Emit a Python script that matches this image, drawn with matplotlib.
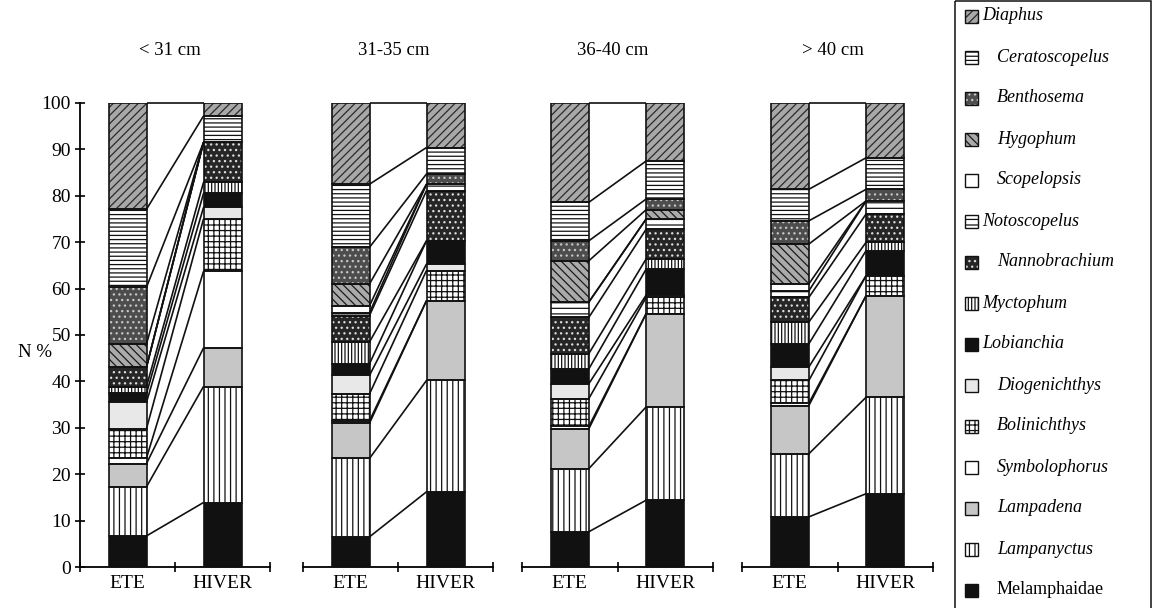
"""
Myctophid composition (N %) by size class, summer (ETE) vs winter (HIVER).
Stacked bars per season with lines joining the cumulative boundaries.
"""

import matplotlib

matplotlib.use("Agg")

import matplotlib.pyplot as plt
import numpy as np
from matplotlib.patches import Rectangle

# ---------------------------------------------------------------------------
# Data (N %, stacked bottom -> top in this order)
# ---------------------------------------------------------------------------

taxa = [
    "Melamphaidae", "Lampanyctus", "Lampadena", "Symbolophorus",
    "Bolinichthys", "Diogenichthys", "Lobianchia", "Myctophum",
    "Nannobrachium", "Notoscopelus", "Scopelopsis", "Hygophum",
    "Benthosema", "Ceratoscopelus", "Diaphus",
]

size_classes = ["< 31 cm", "31-35 cm", "36-40 cm", "> 40 cm"]
seasons = ["ETE", "HIVER"]

lt31_ete = [6.7, 10.6, 5.0, 1.2, 6.3, 5.7, 1.9, 1.5, 4.2, 0.0, 0.0, 5.0, 12.2, 16.8, 22.9]
lt31_hiver = [13.9, 25.0, 8.3, 16.5, 11.3, 2.5, 3.0, 2.4, 8.6, 0.0, 0.0, 0.0, 0.0, 5.7, 2.8]

s31_35_ete = [6.5, 16.9, 7.6, 0.5, 5.8, 4.0, 2.5, 4.7, 5.7, 0.6, 1.5, 4.7, 7.9, 13.6, 17.5]
s31_35_hiver = [16.2, 24.0, 17.2, 0.0, 6.5, 1.4, 5.0, 0.0, 10.8, 1.4, 0.0, 0.0, 2.2, 5.7, 9.6]

s36_40_ete = [7.6, 13.6, 8.6, 0.5, 6.0, 3.2, 3.2, 3.3, 7.8, 3.3, 0.0, 8.9, 4.3, 8.3, 21.4]
s36_40_hiver = [14.4, 20.1, 20.1, 0.0, 3.5, 0.5, 5.6, 2.2, 6.4, 2.2, 0.0, 2.0, 2.3, 8.2, 12.5]

gt40_ete = [10.8, 13.6, 10.4, 0.5, 4.9, 2.9, 5.0, 4.7, 5.3, 1.4, 1.5, 8.6, 5.0, 6.8, 18.6]
gt40_hiver = [15.8, 20.8, 21.9, 0.0, 4.3, 0.0, 5.4, 1.8, 6.1, 2.8, 0.0, 0.0, 2.5, 6.8, 11.8]

panels = [
    (lt31_ete, lt31_hiver),
    (s31_35_ete, s31_35_hiver),
    (s36_40_ete, s36_40_hiver),
    (gt40_ete, gt40_hiver),
]

# ---------------------------------------------------------------------------
# Fill styles: (face colour, hatch, hatch colour)
# ---------------------------------------------------------------------------

STYLES = {
    "Melamphaidae": ("#111111", None, "#111111"),
    "Lampanyctus": ("white", "|||", "#111111"),
    "Lampadena": ("#c6c6c6", None, "#c6c6c6"),
    "Symbolophorus": ("white", None, "white"),
    "Bolinichthys": ("white", "+++", "#111111"),
    "Diogenichthys": ("#e8e8e8", None, "#e8e8e8"),
    "Lobianchia": ("#111111", None, "#111111"),
    "Myctophum": ("white", "|||||", "#111111"),
    "Nannobrachium": ("#262626", "...", "#dddddd"),
    "Notoscopelus": ("white", "---", "#111111"),
    "Scopelopsis": ("white", None, "white"),
    "Hygophum": ("#aaaaaa", "\\\\\\\\", "#1a1a1a"),
    "Benthosema": ("#4d4d4d", "...", "#c8c8c8"),
    "Ceratoscopelus": ("white", "----", "#111111"),
    "Diaphus": ("#a8a8a8", "////", "#2a2a2a"),
}

SERIF = "Liberation Serif"
plt.rcParams["font.family"] = SERIF
plt.rcParams["hatch.linewidth"] = 0.9

W, H = 1154, 608
BAR_W = 0.4
X_ETE, X_HIVER = 0.5, 1.5

# pixel extents of the four panels (left, right); shared vertical extent
PANEL_X = [(80, 270), (303, 493), (522, 713), (742, 933)]
Y_TOP, Y_BOT = 103, 567


def fig_rect(x0, x1, y_top, y_bot):
    return [x0 / W, 1 - y_bot / H, (x1 - x0) / W, (y_bot - y_top) / H]


def draw_stack(ax, x, values):
    bottom = 0.0
    for name, v in zip(taxa, values):
        if v <= 0:
            continue
        face, hatch, hcol = STYLES[name]
        ax.bar(x, v, bottom=bottom, width=BAR_W, color=face, edgecolor=hcol,
               hatch=hatch, linewidth=0, zorder=2)
        ax.bar(x, v, bottom=bottom, width=BAR_W, fill=False,
               edgecolor="#111111", linewidth=1.2, zorder=3)
        bottom += v


fig = plt.figure(figsize=(W / 100, H / 100), dpi=100)

for k, ((ete, hiver), label) in enumerate(zip(panels, size_classes)):
    x0, x1 = PANEL_X[k]
    ax = fig.add_axes(fig_rect(x0, x1, Y_TOP, Y_BOT))
    ax.set_xlim(0, 2)
    ax.set_ylim(0, 100)

    draw_stack(ax, X_ETE, ete)
    draw_stack(ax, X_HIVER, hiver)

    # join matching cumulative boundaries between the two seasons
    cum_e = np.cumsum(ete)
    cum_h = np.cumsum(hiver)
    for ye, yh in zip(cum_e, cum_h):
        ax.plot([X_ETE + BAR_W / 2, X_HIVER - BAR_W / 2], [ye, yh],
                color="#111111", linewidth=1.2, zorder=4, clip_on=False,
                solid_capstyle="butt")

    for side in ("top", "right"):
        ax.spines[side].set_visible(False)
    ax.spines["bottom"].set_linewidth(1.3)

    ax.set_xticks([0, 1, 2])
    ax.set_xticklabels([])
    ax.tick_params(axis="x", which="major", direction="inout", length=7, width=1.2)
    ax.set_xticks([X_ETE, X_HIVER], minor=True)
    ax.set_xticklabels(seasons, minor=True, fontsize=14)
    ax.tick_params(axis="x", which="minor", length=0, pad=6)

    if k == 0:
        ax.spines["left"].set_linewidth(1.3)
        ax.set_yticks(np.arange(0, 101, 10))
        ax.tick_params(axis="y", direction="inout", length=7, width=1.2,
                       labelsize=14, pad=3)
        ax.text(-0.47, 46.3, "N %", fontsize=13.5, ha="center", va="center",
                clip_on=False)
    else:
        ax.spines["left"].set_visible(False)
        ax.set_yticks([])

    ax.text(0.95, 111.4, label, fontsize=13.5, ha="center", va="center",
            clip_on=False)

# ---------------------------------------------------------------------------
# Legend box (top entry = top of the stack)
# ---------------------------------------------------------------------------

lax = fig.add_axes([0, 0, 1, 1])
lax.set_xlim(0, W)
lax.set_ylim(H, 0)
lax.axis("off")
lax.set_zorder(-1)

lax.add_patch(Rectangle((955, 1), 196, 720, fill=False, edgecolor="#111111",
                        linewidth=1.1))

legend_order = taxa[::-1]
text_x = [982, 997, 997, 997, 997, 982, 997, 982, 982, 997, 997, 997, 997, 997, 997]
for i, name in enumerate(legend_order):
    yc = 16 + i * 41
    face, hatch, hcol = STYLES[name]
    lax.add_patch(Rectangle((965, yc - 6.5), 13, 13, facecolor=face,
                            edgecolor=hcol, hatch=hatch, linewidth=0))
    lax.add_patch(Rectangle((965, yc - 6.5), 13, 13, fill=False,
                            edgecolor="#111111", linewidth=1.0))
    style = "normal" if name == "Melamphaidae" else "italic"
    lax.text(text_x[i], yc, name, fontsize=13, fontstyle=style,
             ha="left", va="center")

fig.savefig("out.png", dpi=100)
plt.close(fig)
